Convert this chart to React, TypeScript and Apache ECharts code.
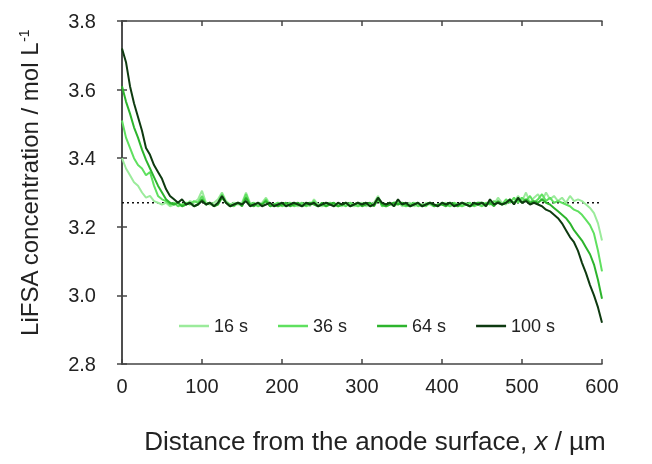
import React, { useEffect, useRef } from "react";
import * as echarts from "echarts";

// Distance grid (µm), one reading every 5 µm from 0 to 600
const STEP = 5;
const distance: number[] = Array.from({ length: 121 }, (_, i) => i * STEP);

const seriesNames = ["16 s", "36 s", "64 s", "100 s"];
const seriesColors = ["#9beb9b", "#5fe05f", "#2db42d", "#0e3a10"];

const c16: number[] = [
  3.40, 3.37, 3.35, 3.33, 3.32, 3.30, 3.285, 3.29, 3.275, 3.27,
  3.265, 3.27, 3.26, 3.265, 3.27, 3.26, 3.265, 3.275, 3.27, 3.28,
  3.305, 3.27, 3.265, 3.27, 3.28, 3.30, 3.275, 3.265, 3.27, 3.265,
  3.27, 3.30, 3.27, 3.265, 3.26, 3.27, 3.285, 3.265, 3.26, 3.27,
  3.265, 3.26, 3.27, 3.265, 3.26, 3.265, 3.27, 3.26, 3.28, 3.265,
  3.26, 3.265, 3.27, 3.26, 3.265, 3.26, 3.27, 3.265, 3.26, 3.265,
  3.27, 3.26, 3.265, 3.27, 3.29, 3.265, 3.26, 3.265, 3.27, 3.275,
  3.26, 3.265, 3.27, 3.26, 3.265, 3.26, 3.27, 3.265, 3.26, 3.265,
  3.265, 3.27, 3.26, 3.265, 3.26, 3.265, 3.27, 3.26, 3.265, 3.27,
  3.265, 3.26, 3.275, 3.265, 3.285, 3.27, 3.265, 3.28, 3.27, 3.29,
  3.275, 3.30, 3.27, 3.285, 3.295, 3.275, 3.30, 3.28, 3.29, 3.275,
  3.285, 3.27, 3.29, 3.275, 3.28, 3.275, 3.265, 3.255, 3.24, 3.21,
  3.16,
];

const c36: number[] = [
  3.51, 3.46, 3.43, 3.40, 3.38, 3.37, 3.35, 3.36, 3.32, 3.29,
  3.28, 3.275, 3.265, 3.27, 3.26, 3.265, 3.27, 3.265, 3.275, 3.27,
  3.29, 3.265, 3.27, 3.26, 3.27, 3.295, 3.27, 3.265, 3.26, 3.27,
  3.265, 3.295, 3.265, 3.27, 3.26, 3.265, 3.28, 3.26, 3.265, 3.27,
  3.26, 3.265, 3.27, 3.26, 3.265, 3.27, 3.26, 3.265, 3.275, 3.26,
  3.265, 3.26, 3.27, 3.265, 3.26, 3.265, 3.26, 3.27, 3.265, 3.26,
  3.265, 3.27, 3.26, 3.265, 3.285, 3.26, 3.265, 3.27, 3.26, 3.27,
  3.265, 3.26, 3.265, 3.27, 3.26, 3.265, 3.26, 3.27, 3.265, 3.26,
  3.27, 3.265, 3.26, 3.27, 3.265, 3.26, 3.265, 3.27, 3.26, 3.265,
  3.26, 3.27, 3.265, 3.275, 3.27, 3.265, 3.28, 3.27, 3.285, 3.27,
  3.285, 3.275, 3.29, 3.27, 3.28, 3.295, 3.275, 3.285, 3.27, 3.275,
  3.27, 3.265, 3.26, 3.25, 3.245, 3.235, 3.22, 3.205, 3.18, 3.13,
  3.07,
];

const c64: number[] = [
  3.61, 3.565, 3.53, 3.49, 3.46, 3.425, 3.395, 3.37, 3.345, 3.32,
  3.30, 3.28, 3.27, 3.265, 3.27, 3.26, 3.265, 3.27, 3.26, 3.265,
  3.28, 3.265, 3.27, 3.26, 3.265, 3.285, 3.27, 3.26, 3.265, 3.27,
  3.26, 3.285, 3.265, 3.26, 3.27, 3.265, 3.275, 3.26, 3.265, 3.26,
  3.265, 3.27, 3.26, 3.265, 3.27, 3.26, 3.265, 3.27, 3.265, 3.26,
  3.27, 3.26, 3.265, 3.27, 3.26, 3.265, 3.27, 3.26, 3.265, 3.27,
  3.26, 3.265, 3.27, 3.26, 3.28, 3.265, 3.26, 3.265, 3.27, 3.265,
  3.27, 3.265, 3.26, 3.265, 3.27, 3.26, 3.265, 3.27, 3.26, 3.265,
  3.265, 3.26, 3.27, 3.265, 3.26, 3.27, 3.265, 3.26, 3.265, 3.27,
  3.27, 3.265, 3.27, 3.26, 3.275, 3.265, 3.27, 3.275, 3.27, 3.28,
  3.27, 3.28, 3.27, 3.275, 3.27, 3.28, 3.27, 3.265, 3.255, 3.245,
  3.235, 3.225, 3.21, 3.19, 3.175, 3.16, 3.14, 3.12, 3.09, 3.045,
  2.99,
];

const c100: number[] = [
  3.72, 3.68, 3.61, 3.56, 3.52, 3.48, 3.43, 3.41, 3.38, 3.36,
  3.34, 3.31, 3.29, 3.28, 3.27, 3.28, 3.265, 3.27, 3.26, 3.265,
  3.275, 3.265, 3.27, 3.26, 3.27, 3.29, 3.27, 3.26, 3.265, 3.27,
  3.265, 3.275, 3.26, 3.265, 3.27, 3.26, 3.265, 3.27, 3.26, 3.265,
  3.27, 3.26, 3.265, 3.27, 3.265, 3.26, 3.27, 3.265, 3.27, 3.26,
  3.265, 3.27, 3.265, 3.26, 3.27, 3.265, 3.27, 3.26, 3.265, 3.27,
  3.265, 3.27, 3.26, 3.265, 3.285, 3.27, 3.265, 3.27, 3.26, 3.28,
  3.265, 3.27, 3.26, 3.265, 3.27, 3.26, 3.265, 3.27, 3.265, 3.26,
  3.27, 3.265, 3.27, 3.26, 3.265, 3.27, 3.265, 3.26, 3.27, 3.265,
  3.27, 3.26, 3.28, 3.265, 3.27, 3.265, 3.27, 3.28, 3.265, 3.285,
  3.27, 3.275, 3.265, 3.27, 3.265, 3.26, 3.25, 3.245, 3.235, 3.225,
  3.21, 3.19, 3.17, 3.155, 3.13, 3.095, 3.065, 3.03, 3.00, 2.965,
  2.92,
];

const seriesValues = [c16, c36, c64, c100];

// Bulk concentration reference (dotted line)
const bulkLevel = 3.27;
const xRange = [0, 600];

const FONT = "'Liberation Sans', Arial, sans-serif";

export default function App() {
  const ref = useRef<HTMLDivElement>(null);

  useEffect(() => {
    document.body.style.margin = "0";
    const chart = echarts.init(ref.current!, null, { renderer: "svg" });

    const axisLineStyle = { color: "#444", width: 1.5 };
    const tick = { show: true, inside: true, length: 5, lineStyle: axisLineStyle };

    const lineSeries = seriesNames.map((name, k) => ({
      name,
      type: "line",
      data: distance.map((x, i) => [x, seriesValues[k][i]]),
      symbol: "none",
      lineStyle: { color: seriesColors[k], width: 2 },
      itemStyle: { color: seriesColors[k] },
      z: 3 + k,
    }));

    chart.setOption({
      animation: false,
      grid: { left: 122, right: 50, top: 21, bottom: 100, containLabel: false },
      legend: {
        data: seriesNames,
        icon: "rect",
        left: 179,
        top: 317,
        itemGap: 30,
        itemWidth: 30,
        itemHeight: 2.5,
        padding: 0,
        textStyle: { fontFamily: FONT, fontSize: 18, color: "#222" },
      },
      xAxis: [
        {
          type: "value",
          min: 0,
          max: 600,
          interval: 100,
          axisLine: { show: true, lineStyle: axisLineStyle },
          axisTick: tick,
          axisLabel: { margin: 12, fontFamily: FONT, fontSize: 20, color: "#222" },
          splitLine: { show: false },
        },
        {
          type: "value",
          position: "top",
          min: 0,
          max: 600,
          interval: 100,
          axisLine: { show: true, lineStyle: axisLineStyle },
          axisTick: tick,
          axisLabel: { show: false },
          splitLine: { show: false },
        },
      ],
      yAxis: [
        {
          type: "value",
          min: 2.8,
          max: 3.8,
          interval: 0.2,
          axisLine: { show: true, lineStyle: axisLineStyle },
          axisTick: tick,
          axisLabel: {
            margin: 26,
            fontFamily: FONT,
            fontSize: 20,
            color: "#222",
            formatter: (v: number) => v.toFixed(1),
          },
          splitLine: { show: false },
        },
        {
          type: "value",
          position: "right",
          min: 2.8,
          max: 3.8,
          interval: 0.2,
          axisLine: { show: true, lineStyle: axisLineStyle },
          axisTick: tick,
          axisLabel: { show: false },
          splitLine: { show: false },
        },
      ],
      series: [
        {
          name: "bulk",
          type: "line",
          data: xRange.map((x) => [x, bulkLevel]),
          symbol: "none",
          silent: true,
          lineStyle: { color: "#111", width: 1.6, type: [2, 3] },
          z: 2,
        },
        ...lineSeries,
      ],
      graphic: [
        {
          type: "text",
          x: 375,
          y: 441,
          style: {
            text: "Distance from the anode surface, {i|x} / µm",
            fontFamily: FONT,
            fontSize: 26,
            fill: "#222",
            textAlign: "center",
            textVerticalAlign: "middle",
            rich: {
              i: { fontFamily: FONT, fontSize: 26, fontStyle: "italic", fill: "#222" },
            },
          },
        },
        {
          type: "text",
          x: 29,
          y: 183,
          rotation: Math.PI / 2,
          style: {
            text: "LiFSA concentration / mol L{sup|-1}",
            fontFamily: FONT,
            fontSize: 24,
            fill: "#222",
            textAlign: "center",
            textVerticalAlign: "middle",
            rich: {
              sup: { fontSize: 14, fontFamily: FONT, fill: "#222", verticalAlign: "top", padding: [0, 0, 10, 0] },
            },
          },
        },
      ],
    });

    return () => chart.dispose();
  }, []);

  return (
    <div
      ref={ref}
      style={{ position: "fixed", left: 0, top: 0, width: 652, height: 464 }}
    />
  );
}
